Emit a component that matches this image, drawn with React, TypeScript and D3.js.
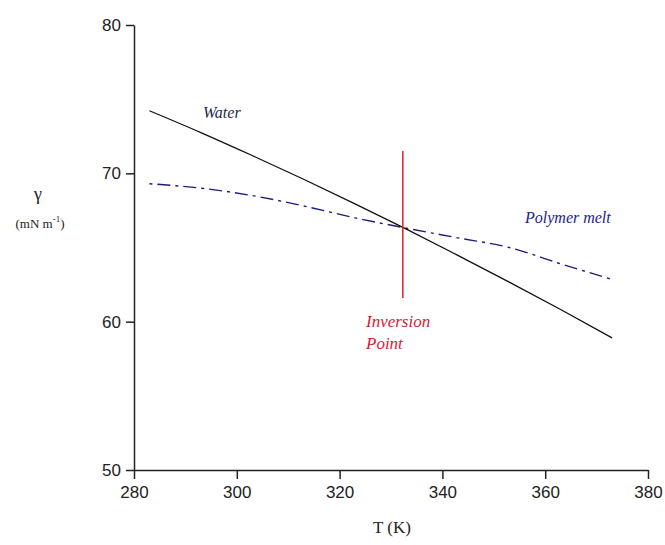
import { useEffect, useRef } from 'react'
import * as d3 from 'd3'

// Temperature (K) and surface tension (mN/m)
const temps = [283, 293, 303, 313, 323, 333, 343, 353, 363, 373]
const water = [74.22, 72.75, 71.2, 69.6, 67.94, 66.24, 64.47, 62.67, 60.82, 58.91]
const polymer = [69.3, 69.0, 68.5, 67.8, 67.0, 66.3, 65.65, 65.0, 63.9, 62.85]

const xTicks = [280, 300, 320, 340, 360, 380]
const yTicks = [50, 60, 70, 80]

// inversion marker
const inversionT = 332.3
const inversionRange = [61.6, 71.5]

export default function App() {
  const svgRef = useRef<SVGSVGElement>(null)

  useEffect(() => {
    if (!svgRef.current) return
    const svg = d3.select(svgRef.current)
    svg.selectAll('*').remove()

    const width = 665
    const height = 545

    svg.attr('width', width).attr('height', height)

    svg.append('rect').attr('width', width).attr('height', height).attr('fill', '#ffffff')

    const xScale = d3.scaleLinear().domain([280, 380]).range([134, 648])
    const yScale = d3.scaleLinear().domain([50, 80]).range([470, 25])

    const tickFont = '"Liberation Sans", Arial, sans-serif'
    const serif = '"Liberation Serif", "Times New Roman", serif'

    // Axes
    const xAxis = svg
      .append('g')
      .attr('transform', `translate(0,${yScale(50)})`)
      .call(d3.axisBottom(xScale).tickValues(xTicks).tickSize(9).tickPadding(7).tickSizeOuter(0))
    xAxis.select('.domain').attr('stroke', '#222').attr('stroke-width', 1.5)
    xAxis.selectAll('.tick line').attr('stroke', '#222').attr('stroke-width', 1.5)
    xAxis
      .selectAll('.tick text')
      .attr('fill', '#222')
      .attr('font-size', '17px')
      .attr('font-family', tickFont)

    const yAxis = svg
      .append('g')
      .attr('transform', `translate(${xScale(280)},0)`)
      .call(d3.axisLeft(yScale).tickValues(yTicks).tickSize(8).tickPadding(5).tickSizeOuter(0))
    yAxis.select('.domain').attr('stroke', '#222').attr('stroke-width', 1.5)
    yAxis.selectAll('.tick line').attr('stroke', '#222').attr('stroke-width', 1.5)
    yAxis
      .selectAll('.tick text')
      .attr('fill', '#222')
      .attr('font-size', '17px')
      .attr('font-family', tickFont)

    const rows = temps.map((t, i) => ({ t, water: water[i], polymer: polymer[i] }))

    // Polymer melt (dash-dot)
    const polyLine = d3
      .line<typeof rows[0]>()
      .x((d) => xScale(d.t))
      .y((d) => yScale(d.polymer))
      .curve(d3.curveMonotoneX)

    svg
      .append('path')
      .datum(rows)
      .attr('fill', 'none')
      .attr('stroke', '#1c1c80')
      .attr('stroke-width', 1.4)
      .attr('stroke-dasharray', '3 5 13 5')
      .attr('d', polyLine)

    // Water
    const waterLine = d3
      .line<typeof rows[0]>()
      .x((d) => xScale(d.t))
      .y((d) => yScale(d.water))
      .curve(d3.curveMonotoneX)

    svg
      .append('path')
      .datum(rows)
      .attr('fill', 'none')
      .attr('stroke', '#111')
      .attr('stroke-width', 1.3)
      .attr('d', waterLine)

    // Inversion point marker
    svg
      .append('line')
      .attr('x1', xScale(inversionT))
      .attr('x2', xScale(inversionT))
      .attr('y1', yScale(inversionRange[1]))
      .attr('y2', yScale(inversionRange[0]))
      .attr('stroke', '#e0202a')
      .attr('stroke-width', 1.5)

    // Labels
    svg
      .append('text')
      .attr('x', 203)
      .attr('y', 118)
      .attr('font-family', serif)
      .attr('font-style', 'italic')
      .attr('font-size', '16px')
      .attr('fill', '#1a2a4a')
      .text('Water')

    svg
      .append('text')
      .attr('x', 525)
      .attr('y', 223)
      .attr('font-family', serif)
      .attr('font-style', 'italic')
      .attr('font-size', '16px')
      .attr('fill', '#23238f')
      .text('Polymer melt')

    const inv = svg
      .append('text')
      .attr('font-family', serif)
      .attr('font-style', 'italic')
      .attr('font-size', '17px')
      .attr('fill', '#d82035')
    inv.append('tspan').attr('x', 366).attr('y', 327).text('Inversion')
    inv.append('tspan').attr('x', 366).attr('y', 349).text('Point')

    // Axis titles
    svg
      .append('text')
      .attr('x', 38)
      .attr('y', 200)
      .attr('text-anchor', 'middle')
      .attr('font-family', serif)
      .attr('font-size', '18px')
      .attr('fill', '#222')
      .text('γ')

    const unit = svg
      .append('text')
      .attr('x', 40)
      .attr('y', 228)
      .attr('text-anchor', 'middle')
      .attr('font-family', serif)
      .attr('font-size', '13px')
      .attr('fill', '#222')
    unit.append('tspan').text('(mN m')
    unit.append('tspan').attr('dy', -6).attr('font-size', '9px').text('-1')
    unit.append('tspan').attr('dy', 6).text(')')

    svg
      .append('text')
      .attr('x', 392)
      .attr('y', 533)
      .attr('text-anchor', 'middle')
      .attr('font-family', serif)
      .attr('font-size', '17px')
      .attr('fill', '#222')
      .text('T (K)')
  }, [])

  return (
    <div style={{ position: 'absolute', left: 0, top: 0 }}>
      <svg ref={svgRef}></svg>
    </div>
  )
}
